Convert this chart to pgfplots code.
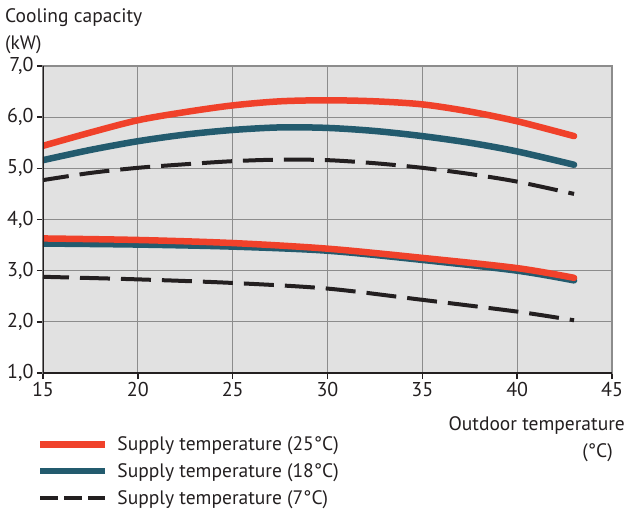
\documentclass[border=0pt]{standalone}
\usepackage{pgfplots}
\pgfplotsset{compat=1.18}
\usepackage{fontspec}
\setmainfont{PT Sans}
\definecolor{redc}{HTML}{F0412A}
\definecolor{bluec}{HTML}{235B6E}
\definecolor{bgc}{HTML}{E1E1E1}
\definecolor{gridc}{HTML}{8C8C8C}
\definecolor{axc}{HTML}{231F20}
\begin{document}
\begin{tikzpicture}[x=1pt,y=1pt]
\useasboundingbox (-43,-139) rectangle (584,373);
\begin{axis}[
  at={(0,0)}, anchor=south west,
  width=569pt, height=307pt, scale only axis,
  xmin=15, xmax=45, ymin=1, ymax=7,
  xtick={15,20,...,45}, ytick={1,...,7},
  yticklabels={{1,0},{2,0},{3,0},{4,0},{5,0},{6,0},{7,0}},
  /pgf/number format/assume math mode=true,
  grid=major, grid style={gridc, line width=1.3pt},
  axis background/.style={fill=bgc},
  axis line style={gridc, line width=2pt},
  xtick pos=left, ytick pos=left,
  tick align=outside, major tick length=6pt,
  tick style={axc, line width=1.5pt},
  ticklabel style={font=\fontsize{20}{23}\selectfont, text=axc},
  legend style={at={(axis description cs:-0.011,-0.2)}, anchor=north west,
     draw=none, fill=none, font=\fontsize{19.5}{22}\selectfont, row sep=7.5pt,
     inner sep=0pt, text=axc},
  legend cell align=left,
  legend image code/.code={\draw[#1] (0pt,0pt) -- (65pt,0pt); \path (72pt,0pt);},
]
\addlegendimage{redc, line width=6.5pt}
\addlegendimage{bluec, line width=6.5pt}
\addlegendimage{axc, line width=3.5pt, dash pattern=on 18pt off 6pt}
\legend{Supply temperature (25°C), Supply temperature (18°C), Supply temperature (7°C)}
% dashed
\addplot[forget plot, axc, line width=4pt, dash pattern=on 30pt off 11pt, dash phase=4pt, smooth] coordinates {
(15,4.77)(17.5,4.91)(20,5.01)(22.5,5.08)(25,5.14)(27.5,5.17)(30,5.16)(32.5,5.10)(35,5.01)(37.5,4.89)(40,4.74)(43,4.50)};
\addplot[forget plot, axc, line width=4pt, dash pattern=on 30pt off 11pt, dash phase=4pt, smooth] coordinates {
(15,2.88)(20,2.83)(25,2.76)(30,2.65)(35,2.43)(40,2.20)(43,2.03)};
% blue
\addplot[forget plot, bluec, line width=6.5pt, line cap=round, smooth] coordinates {
(15,5.16)(17.5,5.36)(20,5.53)(22.5,5.66)(25,5.75)(27.5,5.80)(30,5.79)(32.5,5.73)(35,5.63)(37.5,5.50)(40,5.33)(43,5.07)};
\addplot[forget plot, bluec, line width=6.5pt, line cap=round, smooth] coordinates {
(15,3.53)(20,3.51)(25,3.47)(30,3.39)(35,3.21)(40,3.00)(43,2.81)};
% red
\addplot[forget plot, redc, line width=6.5pt, line cap=round, smooth] coordinates {
(15,5.44)(17.5,5.70)(20,5.94)(22.5,6.10)(25,6.23)(27.5,6.31)(30,6.33)(32.5,6.31)(35,6.25)(37.5,6.11)(40,5.92)(43,5.63)};
\addplot[forget plot, redc, line width=6.5pt, line cap=round, smooth] coordinates {
(15,3.63)(20,3.60)(25,3.54)(30,3.43)(35,3.25)(40,3.05)(43,2.86)};
\draw[axc, line width=3pt] (rel axis cs:0,1) -- (rel axis cs:0,0) -- (rel axis cs:1,0);
\end{axis}
\node[anchor=base west, font=\fontsize{19.5}{22}\selectfont, text=axc, inner sep=0pt] at (-38,350) {Cooling capacity};
\node[anchor=base west, font=\fontsize{19.5}{22}\selectfont, text=axc, inner sep=0pt] at (-38,323) {(kW)};
\node[anchor=base east, font=\fontsize{19.5}{22}\selectfont, text=axc, inner sep=0pt] at (582,-57) {Outdoor temperature};
\node[anchor=base east, font=\fontsize{19.5}{22}\selectfont, text=axc, inner sep=0pt] at (570,-84) {(°C)};
\end{tikzpicture}
\end{document}
